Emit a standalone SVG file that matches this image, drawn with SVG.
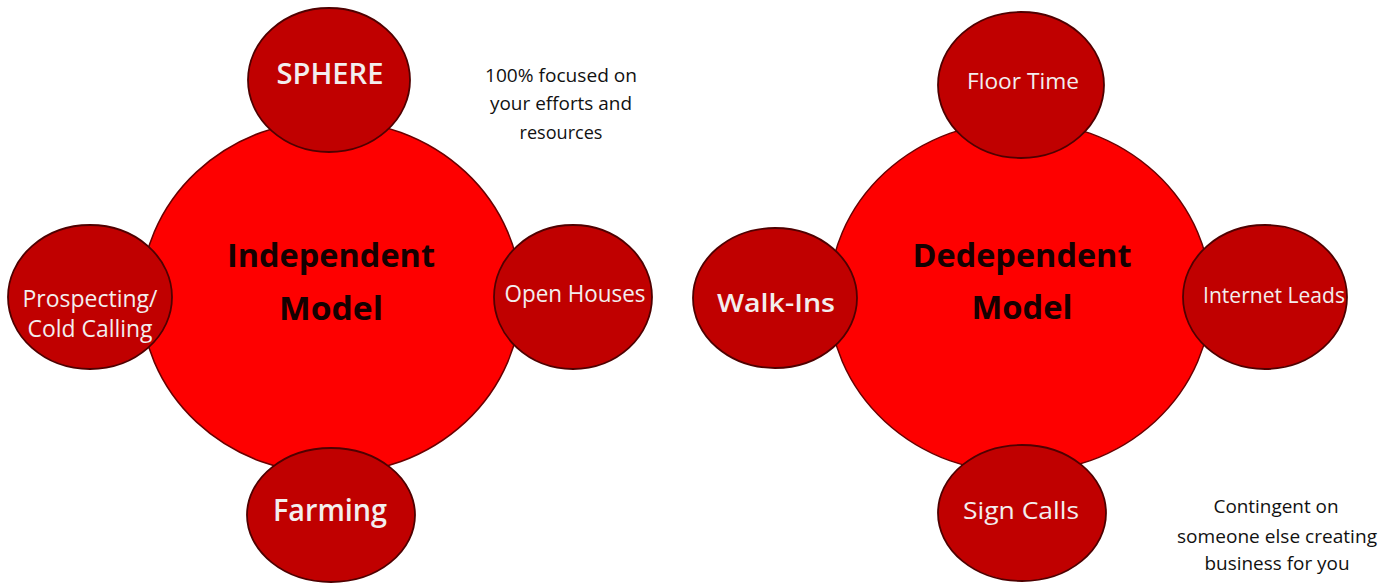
<svg xmlns="http://www.w3.org/2000/svg" width="1394" height="584" viewBox="0 0 1394 584">
  <style>
    .core { fill: #fe0000; stroke: #6a0000; stroke-width: 1.5; }
    .spoke { fill: #c00000; stroke: #4f0000; stroke-width: 1.8; }
    .title { font-family: "Open Sans", "Noto Sans", sans-serif; font-weight: 700; font-size: 33px; fill: #150000; text-anchor: middle; }
    .label { font-family: "Open Sans", "Noto Sans", sans-serif; font-size: 22px; fill: #f3eeee; text-anchor: middle; }
    .heavy { font-weight: 600; }
    .note { font-family: "Open Sans", "Noto Sans", sans-serif; font-size: 18px; fill: #111111; text-anchor: middle; }
  </style>

  <rect width="1394" height="584" fill="#ffffff"/>

  <!-- no connectors: satellites touch the hub directly -->
  <g id="connectors"></g>

  <!-- Independent model -->
  <g id="independent-model">
    <ellipse class="core" cx="331" cy="297" rx="190" ry="177"/>
    <text class="title" x="331" y="267" textLength="208" lengthAdjust="spacingAndGlyphs">Independent</text>
    <text class="title" x="331" y="320" textLength="104" lengthAdjust="spacingAndGlyphs">Model</text>
  </g>
  <g id="sphere">
    <ellipse class="spoke" cx="329" cy="80" rx="81" ry="72"/>
    <text class="label heavy" x="330" y="84" style="font-size:28px" textLength="107" lengthAdjust="spacingAndGlyphs">SPHERE</text>
  </g>
  <g id="prospecting">
    <ellipse class="spoke" cx="90" cy="297" rx="82" ry="72"/>
    <text class="label" x="90" y="307" style="font-size:23px" textLength="135" lengthAdjust="spacingAndGlyphs">Prospecting/</text>
    <text class="label" x="90" y="337" style="font-size:23px" textLength="125" lengthAdjust="spacingAndGlyphs">Cold Calling</text>
  </g>
  <g id="open-houses">
    <ellipse class="spoke" cx="573" cy="297" rx="79" ry="72"/>
    <text class="label" x="575" y="302" style="font-size:23px" textLength="141" lengthAdjust="spacingAndGlyphs">Open Houses</text>
  </g>
  <g id="farming">
    <ellipse class="spoke" cx="331" cy="515" rx="84" ry="67"/>
    <text class="label heavy" x="330" y="521" style="font-size:30px" textLength="114" lengthAdjust="spacingAndGlyphs">Farming</text>
  </g>
  <g id="independent-note">
    <text class="note" x="561" y="82" textLength="152" lengthAdjust="spacingAndGlyphs">100% focused on</text>
    <text class="note" x="561" y="110" textLength="142" lengthAdjust="spacingAndGlyphs">your efforts and</text>
    <text class="note" x="561" y="139" textLength="83" lengthAdjust="spacingAndGlyphs">resources</text>
  </g>

  <!-- Dependent model -->
  <g id="dependent-model">
    <ellipse class="core" cx="1020" cy="297" rx="191" ry="176"/>
    <text class="title" x="1022" y="267" textLength="219" lengthAdjust="spacingAndGlyphs">Dedependent</text>
    <text class="title" x="1022" y="319" textLength="101" lengthAdjust="spacingAndGlyphs">Model</text>
  </g>
  <g id="floor-time">
    <ellipse class="spoke" cx="1021" cy="85" rx="83" ry="73"/>
    <text class="label" x="1023" y="89" style="font-size:21px" textLength="112" lengthAdjust="spacingAndGlyphs">Floor Time</text>
  </g>
  <g id="walk-ins">
    <ellipse class="spoke" cx="775" cy="298" rx="82" ry="70"/>
    <text class="label heavy" x="776" y="312" style="font-size:26px" textLength="118" lengthAdjust="spacingAndGlyphs">Walk-Ins</text>
  </g>
  <g id="internet-leads">
    <ellipse class="spoke" cx="1265" cy="297" rx="82" ry="72"/>
    <text class="label" x="1274" y="303" style="font-size:22px" textLength="142" lengthAdjust="spacingAndGlyphs">Internet Leads</text>
  </g>
  <g id="sign-calls">
    <ellipse class="spoke" cx="1022" cy="513" rx="84" ry="68"/>
    <text class="label" x="1021" y="519" style="font-size:24px" textLength="116" lengthAdjust="spacingAndGlyphs">Sign Calls</text>
  </g>
  <g id="dependent-note">
    <text class="note" x="1276" y="513" textLength="125" lengthAdjust="spacingAndGlyphs">Contingent on</text>
    <text class="note" x="1277" y="543" textLength="200" lengthAdjust="spacingAndGlyphs">someone else creating</text>
    <text class="note" x="1277" y="570" textLength="145" lengthAdjust="spacingAndGlyphs">business for you</text>
  </g>
</svg>
